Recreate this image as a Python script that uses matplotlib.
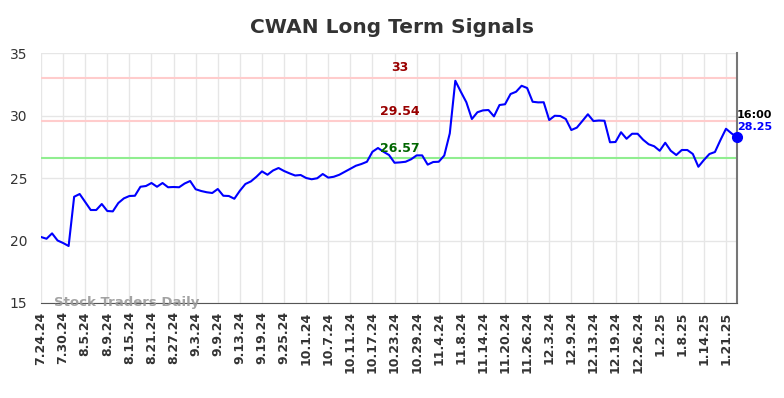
import matplotlib.pyplot as plt
import numpy as np

# CWAN signal history (trading days 7.24.24 .. 1.23.25)
values = [20.28, 20.14, 20.57, 20.0, 19.8, 19.56, 23.5, 23.72, 23.08, 22.44,
          22.44, 22.92, 22.36, 22.33, 23.0, 23.37, 23.56, 23.58, 24.3, 24.36,
          24.6, 24.3, 24.6, 24.26, 24.28, 24.26, 24.56, 24.76, 24.1, 23.96,
          23.86, 23.8, 24.12, 23.58, 23.56, 23.34, 23.98, 24.52, 24.73, 25.1,
          25.53, 25.26, 25.6, 25.8, 25.56, 25.37, 25.2, 25.24, 25.0, 24.9,
          24.98, 25.32, 25.03, 25.1, 25.26, 25.5, 25.74, 25.98, 26.12, 26.3,
          27.1, 27.4, 27.1, 26.84, 26.22, 26.25, 26.3, 26.5, 26.81, 26.81,
          26.07, 26.28, 26.3, 26.8, 28.57, 32.78, 31.9, 31.06, 29.72, 30.26,
          30.41, 30.44, 29.93, 30.84, 30.9, 31.72, 31.9, 32.38, 32.2, 31.1,
          31.05, 31.06, 29.64, 29.98, 29.96, 29.72, 28.84, 29.03, 29.56, 30.1,
          29.56, 29.6, 29.58, 27.86, 27.88, 28.66, 28.14, 28.54, 28.54, 28.06,
          27.7, 27.54, 27.18, 27.82, 27.18, 26.84, 27.24, 27.24, 26.92, 25.9,
          26.44, 26.92, 27.08, 28.04, 28.94, 28.57, 28.25]

tick_labels = ['7.24.24', '7.30.24', '8.5.24', '8.9.24', '8.15.24', '8.21.24',
               '8.27.24', '9.3.24', '9.9.24', '9.13.24', '9.19.24', '9.25.24',
               '10.1.24', '10.7.24', '10.11.24', '10.17.24', '10.23.24',
               '10.29.24', '11.4.24', '11.8.24', '11.14.24', '11.20.24',
               '11.26.24', '12.3.24', '12.9.24', '12.13.24', '12.19.24',
               '12.26.24', '1.2.25', '1.8.25', '1.14.25', '1.21.25']

upper_levels = [33, 29.54]
lower_level = 26.57
last_time = '16:00'

x = np.arange(len(values))

fig = plt.figure(figsize=(7.84, 3.98), dpi=100)
ax = fig.add_axes([0.0523, 0.2387, 0.8878, 0.6281])

ax.plot(x, values, color='#0000ff', lw=1.5, zorder=3)
ax.plot(x[-1], values[-1], 'o', color='#0000ff', ms=7, zorder=4, clip_on=False)

# level labels sit a little right of the middle
lab_x = x[65]
for lv in upper_levels:
    ax.axhline(lv, color='#ffcccc', lw=1.5, zorder=2)
    ax.text(lab_x, lv + 0.3, f'{lv:g}', color='#990000', fontsize=9,
            fontweight='bold', ha='center', va='bottom', zorder=5)
ax.axhline(lower_level, color='#90ee90', lw=1.5, zorder=2)
ax.text(lab_x, lower_level + 0.3, f'{lower_level:g}', color='#006600', fontsize=9,
        fontweight='bold', ha='center', va='bottom', zorder=5)

ax.text(x[-1], values[-1] + 1.4, last_time, color='black', fontsize=8,
        fontweight='bold', ha='left', va='bottom')
ax.text(x[-1], values[-1] + 0.4, f'{values[-1]:.2f}', color='#0000ff', fontsize=8,
        fontweight='bold', ha='left', va='bottom')

ax.text(2.3, 15.05, 'Stock Traders Daily', color='#999999', fontsize=9.5,
        fontweight='bold', ha='left', va='center', alpha=0.9)

ax.set_xlim(0, len(values) - 1)
ax.set_ylim(15, 35)
ax.set_yticks([15, 20, 25, 30, 35])
ax.set_xticks(x[::4])
ax.set_xticklabels(tick_labels, rotation=90, fontsize=9, fontweight='bold', color='#333333')
ax.tick_params(axis='y', labelsize=10, colors='#333333', length=0, pad=10)
ax.tick_params(axis='x', length=0, pad=6)
ax.grid(True, color='#e6e6e6', lw=1)
ax.set_axisbelow(True)

for s in ['top', 'left']:
    ax.spines[s].set_visible(False)
ax.spines['bottom'].set_color('#555555')
ax.spines['right'].set_color('#777777')
ax.spines['right'].set_linewidth(1.5)

fig.suptitle('CWAN Long Term Signals', x=0.5, y=0.955, fontsize=14.5,
             fontweight='bold', color='#333333')

fig.savefig('out.png', dpi=100)
